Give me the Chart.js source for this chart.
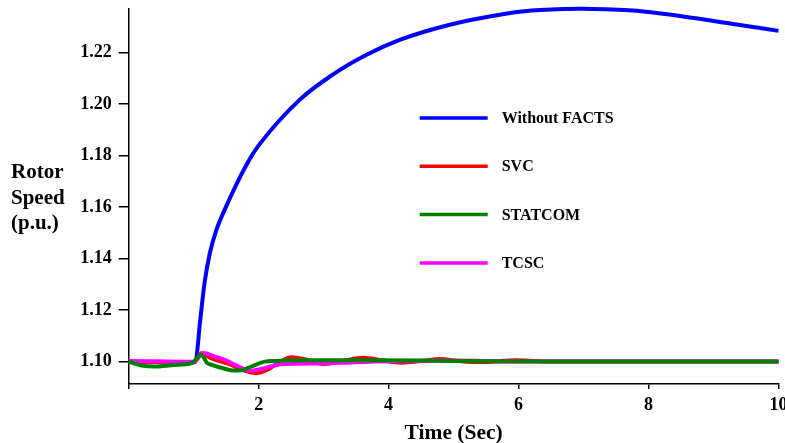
<!DOCTYPE html>
<html>
<head>
<meta charset="utf-8">
<script src="https://cdn.jsdelivr.net/npm/chart.js@4"></script>
<style>
    html, body { margin: 0; padding: 0; background: #fff; overflow: hidden; }
    #wrap { width: 785px; height: 443px; }
</style>
</head>
<body>
<div id="wrap"><canvas id="speedChart" width="785" height="443"></canvas></div>
<script>
// rotor speed (p.u.) against time (s) for each compensation case
const noFactsT = [0, 0.5, 1.0, 1.03, 1.1, 1.17, 1.25, 1.35, 1.5, 1.66, 1.87, 2.0, 2.63, 3.14, 3.66, 4.17, 4.94, 5.71, 6.2, 7.0, 7.76, 8.53, 9.3, 10];
const noFactsV = [1.1000, 1.0999, 1.0998, 1.1002, 1.1160, 1.1310, 1.1423, 1.1512, 1.1603, 1.1690, 1.1790, 1.1840, 1.2017, 1.2115, 1.2192, 1.2250, 1.2309, 1.2348, 1.2364, 1.2371, 1.2364, 1.2341, 1.2312, 1.2285];

const svcT = [0, 0.5, 1.0, 1.12, 1.25, 1.4, 1.55, 1.75, 1.97, 2.15, 2.3, 2.51, 2.75, 3.02, 3.3, 3.61, 3.9, 4.2, 4.5, 4.79, 5.1, 5.4, 5.97, 6.5, 7.5, 10];
const svcV = [1.1000, 1.0998, 1.0997, 1.1032, 1.1015, 1.1002, 1.0990, 1.0968, 1.0955, 1.0970, 1.0995, 1.1017, 1.1006, 1.0991, 1.1003, 1.1015, 1.1005, 1.0996, 1.1002, 1.1010, 1.1002, 1.0998, 1.1005, 1.1000, 1.1000, 1.1000];

const statcomT = [0, 0.2, 0.4, 0.7, 0.97, 1.12, 1.2, 1.28, 1.45, 1.62, 1.75, 1.89, 2.1, 2.4, 2.9, 3.5, 4.5, 5.5, 6.5, 10];
const statcomV = [1.1000, 1.0985, 1.0981, 1.0987, 1.0994, 1.1026, 1.0996, 1.0987, 1.0974, 1.0965, 1.0967, 1.0981, 1.1000, 1.1004, 1.1005, 1.1005, 1.1004, 1.1001, 1.1000, 1.1000];

const tcscT = [0, 0.5, 1.0, 1.15, 1.33, 1.48, 1.69, 1.86, 2.05, 2.3, 2.6, 3.0, 3.4, 3.8, 4.3, 4.8, 5.3, 6.0, 7.0, 10];
const tcscV = [1.1002, 1.1000, 1.0999, 1.1033, 1.1019, 1.1007, 1.0981, 1.0964, 1.0972, 1.0988, 1.0992, 1.0993, 1.0997, 1.1000, 1.1002, 1.1004, 1.1003, 1.1000, 1.1000, 1.1000];

const seriesNames = ["Without FACTS", "SVC", "STATCOM", "TCSC"];
const xTicks = [0, 2, 4, 6, 8, 10];
const yTicks = [1.10, 1.12, 1.14, 1.16, 1.18, 1.20, 1.22];
const yTitleLines = ["Rotor", "Speed", "(p.u.)"];

const serif = "'Liberation Serif', 'Times New Roman', serif";

const pts = (ts, vs) => ts.map((t, i) => ({ x: t, y: vs[i] }));

function mkLine(label, ts, vs, color, order) {
    return {
        label,
        data: pts(ts, vs),
        borderColor: color,
        backgroundColor: color,
        borderWidth: 4,
        pointRadius: 0,
        fill: false,
        cubicInterpolationMode: "monotone",
        clip: false,
        order
    };
}

// horizontal three-line y title on the left
const yTitlePlugin = {
    id: "yTitle",
    afterDraw(chart) {
        const ctx = chart.ctx;
        ctx.save();
        ctx.fillStyle = "#000";
        ctx.font = `bold 21px ${serif}`;
        ctx.textAlign = "left";
        ctx.textBaseline = "alphabetic";
        yTitleLines.forEach((s, i) => ctx.fillText(s, 11, 178 + i * 25.5));
        ctx.restore();
    }
};

// stacked legend inside the plot area
const innerLegend = {
    id: "innerLegend",
    afterDraw(chart) {
        const ctx = chart.ctx;
        const area = chart.chartArea;
        const x0 = area.left + 291, x1 = area.left + 359, tx = area.left + 373;
        ctx.save();
        ctx.font = `bold 16px ${serif}`;
        ctx.textAlign = "left";
        ctx.textBaseline = "middle";
        chart.data.datasets.forEach((ds, i) => {
            const y = area.top + 109 + i * 48.3;
            ctx.strokeStyle = ds.borderColor;
            ctx.lineWidth = 3.5;
            ctx.beginPath();
            ctx.moveTo(x0, y);
            ctx.lineTo(x1, y);
            ctx.stroke();
            ctx.fillStyle = "#000";
            ctx.fillText(ds.label, tx, y + 1);
        });
        ctx.restore();
    }
};

new Chart(document.getElementById("speedChart"), {
    type: "line",
    data: {
        datasets: [
            mkLine(seriesNames[0], noFactsT, noFactsV, "#0000ff", 3),
            mkLine(seriesNames[1], svcT, svcV, "#ff0000", 2),
            mkLine(seriesNames[2], statcomT, statcomV, "#008000", 0),
            mkLine(seriesNames[3], tcscT, tcscV, "#ff00ff", 1)
        ]
    },
    options: {
        animation: false,
        responsive: false,
        devicePixelRatio: 1,
        layout: { padding: { left: 0, top: 9, right: 6.5, bottom: 0 } },
        plugins: { legend: { display: false }, tooltip: { enabled: false } },
        scales: {
            x: {
                type: "linear",
                min: 0,
                max: 10,
                afterBuildTicks: s => { s.ticks = xTicks.map(v => ({ value: v })); },
                afterFit: s => { s.height = 59; s.paddingLeft = 0; s.paddingRight = 0; },
                ticks: {
                    callback: v => v === 0 ? "" : v,
                    color: "#000",
                    font: { family: serif, size: 18, weight: "bold" },
                    padding: 6,
                    maxRotation: 0
                },
                grid: { drawOnChartArea: false, drawTicks: true, tickLength: 5, color: "#000", lineWidth: 1.5 },
                border: { display: true, color: "#000", width: 1.5 },
                title: {
                    display: true,
                    text: "Time (Sec)",
                    color: "#000",
                    font: { family: serif, size: 21.5, weight: "bold" },
                    padding: { top: 0, bottom: -3 }
                }
            },
            y: {
                min: 1.0913,
                max: 1.2370,
                afterBuildTicks: s => { s.ticks = yTicks.map(v => ({ value: v })); },
                afterFit: s => { s.width = 128.7; s.paddingTop = 0; s.paddingBottom = 0; },
                ticks: {
                    callback: v => v.toFixed(2),
                    color: "#000",
                    font: { family: serif, size: 18, weight: "bold" },
                    padding: 7
                },
                grid: { drawOnChartArea: false, drawTicks: true, tickLength: 10, color: "#000", lineWidth: 1.5 },
                border: { display: true, color: "#000", width: 1.5 }
            }
        }
    },
    plugins: [yTitlePlugin, innerLegend]
});
</script>
</body>
</html>
